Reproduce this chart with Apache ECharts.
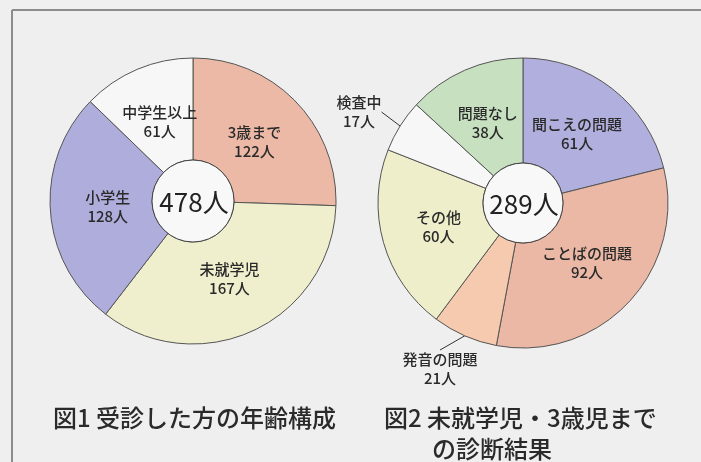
<!DOCTYPE html>
<html>
<head>
<meta charset="utf-8">
<script src="https://cdn.jsdelivr.net/npm/echarts@6/dist/echarts.min.js"></script>
<style>
  html, body { margin: 0; padding: 0; background: #efefef; }
  #chart { width: 701px; height: 462px; }
</style>
</head>
<body>
<div id="chart"></div>
<script>
// 図1 受診した方の年齢構成
var ageNames = ['3歳まで', '未就学児', '小学生', '中学生以上'];
var ageValues = [122, 167, 128, 61];

// 図2 未就学児・3歳児までの診断結果
var diagNames = ['聞こえの問題', 'ことばの問題', '発音の問題', 'その他', '検査中', '問題なし'];
var diagValues = [61, 92, 21, 60, 17, 38];
var diagOutside = ['発音の問題', '検査中'];

var ageColors = ['#ebb9a6', '#efeecd', '#aeaddb', '#f7f7f8'];
var diagColors = ['#b0afdd', '#ebb8a5', '#f5caaf', '#efeecb', '#f7f7f8', '#c6e0c0'];

var font = '"Noto Sans CJK JP", "Noto Sans", sans-serif';

function sum(arr){
  var s = 0;
  for (var i = 0; i < arr.length; i++) s += arr[i];
  return s;
}

var ageData = ageNames.map(function(n, i){
  return {name: n, value: ageValues[i], itemStyle: {color: ageColors[i]}};
});
var diagData = diagNames.map(function(n, i){
  var d = {name: n, value: diagValues[i], itemStyle: {color: diagColors[i]}};
  if (diagOutside.indexOf(n) >= 0) {
    d.label = {position: 'outside'};
    d.labelLine = {show: true, length: 8, length2: 0, lineStyle: {color: '#333', width: 1}};
  }
  return d;
});

var pieLabel = {
  show: true,
  position: 'inner',
  formatter: '{b}\n{c}人',
  fontFamily: font,
  fontSize: 15,
  fontWeight: 500,
  lineHeight: 19,
  color: '#2a2a2a'
};

// 内側ラベルを少し中心寄りにする
function pullIn(cx, cy, k){
  return function(params){
    var r = params.labelRect;
    var lx = r.x + r.width / 2, ly = r.y + r.height / 2;
    return {x: cx + (lx - cx) * k, y: cy + (ly - cy) * k, align: 'center', verticalAlign: 'middle'};
  };
}
var pull1 = pullIn(193, 201, 0.9);
var pull2 = pullIn(523, 203, 0.92);

var myChart = echarts.init(document.getElementById('chart'));
var option = {
  backgroundColor: '#efefef',
  animation: false,
  series: [
    {
      type: 'pie',
      center: [193, 201],
      radius: [41, 143],
      startAngle: 90,
      clockwise: true,
      avoidLabelOverlap: false,
      emphasis: {disabled: true},
      itemStyle: {borderColor: '#555', borderWidth: 1},
      label: pieLabel,
      labelLine: {show: false},
      labelLayout: pull1,
      data: ageData
    },
    {
      type: 'pie',
      center: [523, 203],
      radius: [40, 145],
      startAngle: 90,
      clockwise: true,
      avoidLabelOverlap: false,
      emphasis: {disabled: true},
      itemStyle: {borderColor: '#555', borderWidth: 1},
      label: pieLabel,
      labelLine: {show: false},
      labelLayout: function(params){
        var n = diagNames[params.dataIndex];
        // 外側ラベルの位置
        if (n === '検査中') return {x: 359, y: 112, align: 'center', verticalAlign: 'middle'};
        if (n === '発音の問題') return {x: 440, y: 369, align: 'center', verticalAlign: 'middle'};
        return pull2(params);
      },
      data: diagData
    }
  ],
  graphic: [
    // 枠線
    {type: 'line', shape: {x1: 12, y1: 10, x2: 701, y2: 10}, style: {stroke: '#8c8c8c', lineWidth: 2}},
    {type: 'line', shape: {x1: 12, y1: 10, x2: 12, y2: 462}, style: {stroke: '#8c8c8c', lineWidth: 2}},
    // 中央の円
    {type: 'circle', shape: {cx: 193, cy: 201, r: 41}, style: {fill: '#f8f8f9', stroke: '#444', lineWidth: 1}, z: 10},
    {type: 'circle', shape: {cx: 523, cy: 203, r: 40}, style: {fill: '#f8f8f9', stroke: '#444', lineWidth: 1}, z: 10},
    {type: 'text', x: 194, y: 202, z: 11, style: {text: sum(ageValues) + '人', font: '26px ' + font, fill: '#222', textAlign: 'center', textVerticalAlign: 'middle'}},
    {type: 'text', x: 524, y: 204, z: 11, style: {text: sum(diagValues) + '人', font: '26px ' + font, fill: '#222', textAlign: 'center', textVerticalAlign: 'middle'}},
    // 図のタイトル
    {type: 'text', x: 53, y: 418, style: {text: '図1 受診した方の年齢構成', font: '500 24px ' + font, fill: '#2a2a2a', textAlign: 'left', textVerticalAlign: 'middle'}},
    {type: 'text', x: 384, y: 418, style: {text: '図2 未就学児・3歳児まで', font: '500 24px ' + font, fill: '#2a2a2a', textAlign: 'left', textVerticalAlign: 'middle'}},
    {type: 'text', x: 432, y: 449, style: {text: 'の診断結果', font: '500 24px ' + font, fill: '#2a2a2a', textAlign: 'left', textVerticalAlign: 'middle'}}
  ]
};
myChart.setOption(option);
</script>
</body>
</html>
